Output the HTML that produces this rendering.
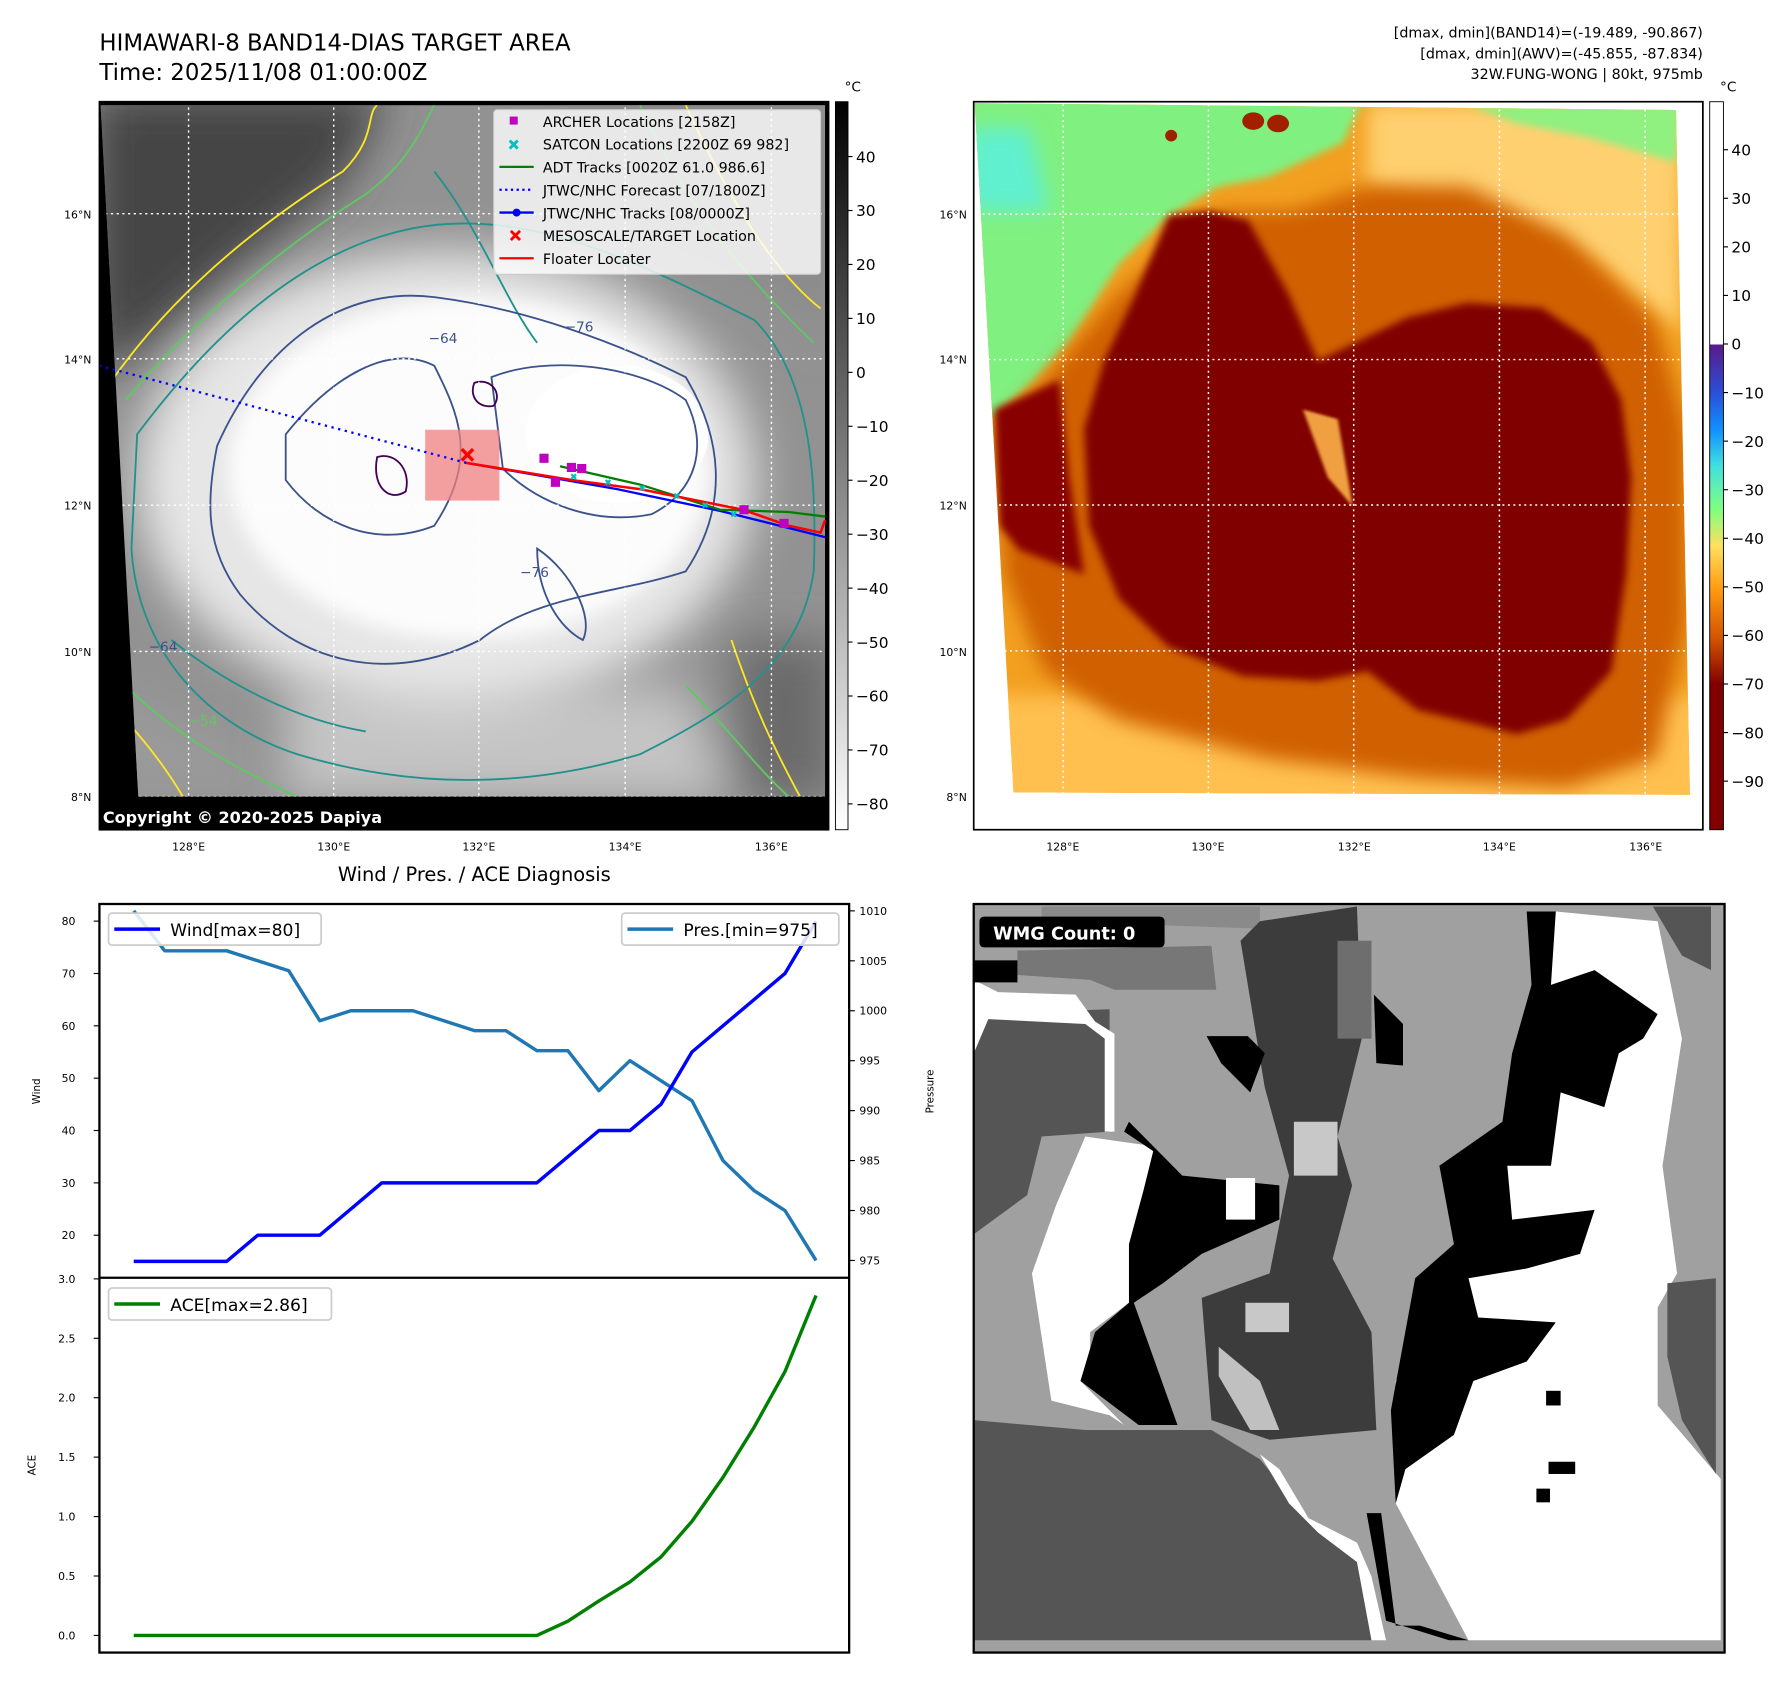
<!DOCTYPE html>
<html><head><meta charset="utf-8"><style>
html,body{margin:0;padding:0;background:#fff;}
svg{display:block;}
text{font-family:"DejaVu Sans","Liberation Sans",sans-serif;}
</style></head><body>
<svg id="root" width="1792" height="1690" viewBox="0 0 1568 1478.75" preserveAspectRatio="none" xmlns="http://www.w3.org/2000/svg">
<defs>
<filter id="b8" x="-20%" y="-20%" width="140%" height="140%"><feGaussianBlur stdDeviation="8"/></filter>
<filter id="b20" x="-30%" y="-30%" width="160%" height="160%"><feGaussianBlur stdDeviation="20"/></filter>
<filter id="b4"><feGaussianBlur stdDeviation="3"/></filter>
<clipPath id="c1"><polygon points="88,92 722,92 722,697 121,697"/></clipPath>
<clipPath id="c2"><polygon points="10,28 1420,42 1448,1455 88,1450"/></clipPath>
<linearGradient id="cb1" x1="0" y1="0" x2="0" y2="1"><stop offset="0" stop-color="#000"/><stop offset="1" stop-color="#fff"/></linearGradient>
<linearGradient id="cb2" x1="0" y1="0" x2="0" y2="1">
<stop offset="0" stop-color="#fff"/><stop offset="0.333" stop-color="#fff"/>
<stop offset="0.334" stop-color="#5a1a8a"/><stop offset="0.40" stop-color="#2a4fd8"/><stop offset="0.45" stop-color="#1090ff"/>
<stop offset="0.50" stop-color="#40e0e0"/><stop offset="0.56" stop-color="#80ff80"/><stop offset="0.61" stop-color="#ffe060"/>
<stop offset="0.67" stop-color="#ff9a10"/><stop offset="0.74" stop-color="#d05000"/><stop offset="0.80" stop-color="#800000"/><stop offset="1" stop-color="#800000"/>
</linearGradient>
</defs>

<text x="87" y="44" font-size="20">HIMAWARI-8 BAND14-DIAS TARGET AREA</text>
<text x="87" y="70" font-size="20">Time: 2025/11/08 01:00:00Z</text>
<g font-size="12.5" text-anchor="end">
<text x="1490" y="33">[dmax, dmin](BAND14)=(-19.489, -90.867)</text>
<text x="1490" y="51">[dmax, dmin](AWV)=(-45.855, -87.834)</text>
<text x="1490" y="69">32W.FUNG-WONG | 80kt, 975mb</text>
</g>

<g>
<rect x="87" y="89" width="638" height="637" fill="#000"/>
<g clip-path="url(#c1)">
<rect x="80" y="80" width="660" height="640" fill="#929292"/>
<polygon points="80,80 340,80 300,160 210,230 130,300 80,330" fill="#454545" filter="url(#b20)"/>
<polygon points="480,80 730,80 730,300 680,250 560,200" fill="#8a8a8a" filter="url(#b20)"/>
<polygon points="640,560 730,560 730,700 650,700" fill="#6a6a6a" filter="url(#b20)"/>
<polygon points="80,600 200,640 250,700 80,700" fill="#9a9a9a" filter="url(#b20)"/>
<polygon points="250,600 600,600 640,700 250,700" fill="#c4c4c4" filter="url(#b20)"/>
<ellipse cx="390" cy="420" rx="270" ry="200" fill="#e6e6e6" filter="url(#b20)"/>
<ellipse cx="410" cy="410" rx="210" ry="150" fill="#fcfcfc" filter="url(#b8)"/>
<ellipse cx="540" cy="380" rx="80" ry="60" fill="#fff"/>
<g fill="none" stroke-width="1.6">
<path d="M100,330 C150,260 220,200 300,150 C330,120 320,100 330,92" stroke="#fde725"/>
<path d="M600,92 C640,180 680,240 718,270" stroke="#fde725"/>
<path d="M640,560 C660,620 680,660 700,697" stroke="#fde725"/>
<path d="M100,620 C130,650 150,680 160,697" stroke="#fde725"/>
<path d="M110,350 C160,290 240,220 320,170 C360,140 370,110 380,92" stroke="#5ec962"/>
<path d="M560,92 C600,180 650,240 712,300" stroke="#5ec962"/>
<path d="M600,600 C640,640 660,670 690,697" stroke="#5ec962"/>
<path d="M110,600 C150,640 200,670 260,697" stroke="#5ec962"/>
<path d="M120,380 C180,300 260,220 360,200 C460,180 560,230 660,280 C710,330 715,420 712,500 C700,580 640,620 560,660 C460,690 360,690 260,660 C170,630 120,560 115,480 Z" stroke="#21918c"/>
<path d="M150,560 C200,600 260,630 320,640" stroke="#21918c"/>
<path d="M380,150 C420,200 440,260 470,300" stroke="#21918c"/>
<path d="M190,390 C230,300 300,250 380,260 C460,270 540,300 600,330 C630,380 640,440 600,500 C540,520 470,520 420,560 C340,600 260,580 210,520 C180,480 180,440 190,390 Z" stroke="#3b528b"/>
<path d="M250,380 C290,330 340,300 380,320 C400,360 420,400 380,460 C330,480 280,460 250,420 Z" stroke="#3b528b"/>
<path d="M430,330 C480,310 560,320 600,350 C620,390 610,430 570,450 C520,460 470,440 440,410 Z" stroke="#3b528b"/>
<path d="M470,480 C500,500 520,540 510,560 C490,550 470,520 470,480 Z" stroke="#3b528b"/>
<path d="M330,400 C345,395 360,410 355,430 C340,440 325,425 330,400 Z" stroke="#440154"/>
<path d="M415,335 C430,330 440,345 432,355 C420,358 410,348 415,335 Z" stroke="#440154"/>
</g>
<g fill="#3b528b" font-size="12">
<text x="494" y="290">−76</text><text x="375" y="300">−64</text><text x="455" y="505">−76</text><text x="130" y="570">−64</text><text x="165" y="635" fill="#5ec962">−54</text>
</g>
<g stroke="#fff" stroke-width="1.2" stroke-dasharray="2,3">
<line x1="165" y1="89" x2="165" y2="726"/><line x1="292" y1="89" x2="292" y2="726"/><line x1="419" y1="89" x2="419" y2="726"/><line x1="547" y1="89" x2="547" y2="726"/><line x1="675" y1="89" x2="675" y2="726"/>
<line x1="87" y1="187" x2="725" y2="187"/><line x1="87" y1="314" x2="725" y2="314"/><line x1="87" y1="442" x2="725" y2="442"/><line x1="87" y1="570" x2="725" y2="570"/><line x1="87" y1="697" x2="725" y2="697"/>
</g>
</g>
<rect x="372" y="376" width="65" height="62" fill="#f08080" opacity="0.75"/>
<line x1="87" y1="320" x2="408" y2="405" stroke="#0000ff" stroke-width="2" stroke-dasharray="2,4"/>
<polyline points="408,405 540,428 630,447 722,470" fill="none" stroke="#0000ff" stroke-width="2"/>
<polyline points="490,408 560,424 630,446 690,448 722,452" fill="none" stroke="#008000" stroke-width="2"/>
<polyline points="408,405 500,420 560,428 620,440 650,446 690,460 718,466 722,455" fill="none" stroke="#ff0000" stroke-width="2.2"/>
<g stroke="#00c0c0" stroke-width="2">
<path d="M500,415 l4,4 M504,415 l-4,4 M530,420 l4,4 M534,420 l-4,4 M560,425 l4,4 M564,425 l-4,4 M590,432 l4,4 M594,432 l-4,4 M615,440 l4,4 M619,440 l-4,4 M640,448 l4,4 M644,448 l-4,4"/>
</g>
<g fill="#c000c0">
<rect x="472" y="397" width="8" height="8"/><rect x="496" y="405" width="8" height="8"/><rect x="505" y="406" width="8" height="8"/><rect x="482" y="418" width="8" height="8"/><rect x="647" y="442" width="8" height="8"/><rect x="682" y="454" width="8" height="8"/>
</g>
<path d="M404,393 l10,10 M414,393 l-10,10" stroke="#ff0000" stroke-width="3"/>
<g>
<rect x="432" y="96" width="286" height="144" rx="3" fill="#fff" fill-opacity="0.8" stroke="#ccc"/>
<rect x="446" y="102" width="7" height="7" fill="#c000c0"/>
<path d="M446,123 l7,7 M453,123 l-7,7" stroke="#00c0c0" stroke-width="2.5"/>
<line x1="437" y1="146" x2="467" y2="146" stroke="#008000" stroke-width="2"/>
<line x1="437" y1="166" x2="467" y2="166" stroke="#0000ff" stroke-width="2" stroke-dasharray="2,3"/>
<line x1="437" y1="186" x2="467" y2="186" stroke="#0000ff" stroke-width="2"/><circle cx="452" cy="186" r="3.5" fill="#0000ff"/>
<path d="M447,202 l8,8 M455,202 l-8,8" stroke="#ff0000" stroke-width="2.5"/>
<line x1="437" y1="226" x2="467" y2="226" stroke="#ff0000" stroke-width="2"/>
<g font-size="12.5">
<text x="475" y="111">ARCHER Locations [2158Z]</text>
<text x="475" y="131">SATCON Locations [2200Z 69 982]</text>
<text x="475" y="151">ADT Tracks [0020Z 61.0 986.6]</text>
<text x="475" y="171">JTWC/NHC Forecast [07/1800Z]</text>
<text x="475" y="191">JTWC/NHC Tracks [08/0000Z]</text>
<text x="475" y="211">MESOSCALE/TARGET Location</text>
<text x="475" y="231">Floater Locater</text>
</g>
</g>
<text x="90" y="720" font-size="14" font-weight="bold" fill="#fff">Copyright © 2020-2025 Dapiya</text>
<rect x="87" y="89" width="638" height="637" fill="none" stroke="#000" stroke-width="1.5"/>
</g>
<g font-size="9.5">
<g text-anchor="end"><text x="80" y="191">16°N</text><text x="80" y="318">14°N</text><text x="80" y="446">12°N</text><text x="80" y="574">10°N</text><text x="80" y="701">8°N</text></g>
<g text-anchor="middle"><text x="165" y="744">128°E</text><text x="292" y="744">130°E</text><text x="419" y="744">132°E</text><text x="547" y="744">134°E</text><text x="675" y="744">136°E</text></g>
</g>
<g>
<rect x="731" y="89" width="11" height="637" fill="url(#cb1)" stroke="#000" stroke-width="0.8"/>
<text x="739" y="80" font-size="12">°C</text>
<g font-size="13.5" id="cb1ticks"></g>
</g>

<g>
<rect x="852" y="89" width="638" height="637" fill="#fff"/>
<g transform="translate(848.5,78.4) scale(0.4352,0.4241)">
<g clip-path="url(#c2)">
<rect x="0" y="0" width="1500" height="1500" fill="#f2a020"/>
<polygon points="0,1250 1500,1250 1500,1500 0,1500" fill="#ffc050" filter="url(#b20)"/>
<polygon points="800,30 1430,30 1430,500 1250,350 1000,250 800,200" fill="#ffd070" filter="url(#b20)"/>
<polygon points="0,0 800,0 750,110 600,180 500,200 400,260 300,360 200,520 130,600 40,680 0,680" fill="#80f080" filter="url(#b8)"/>
<polygon points="0,80 120,80 160,250 0,250" fill="#60f0d0" filter="url(#b20)"/>
<polygon points="1000,30 1430,30 1420,150 1250,100 1100,70" fill="#90f080" filter="url(#b8)"/>
<polygon points="300,420 500,250 650,250 800,200 1000,200 1200,300 1380,480 1440,700 1440,1100 1380,1380 1200,1440 900,1420 600,1380 300,1300 150,1200 70,1000 60,700 150,600" fill="#d06000" filter="url(#b20)"/>
<polygon points="400,260 480,250 560,270 640,420 700,560 780,520 880,470 1000,440 1150,450 1250,520 1310,640 1330,800 1320,1000 1290,1200 1200,1300 1100,1330 900,1280 800,1200 700,1220 550,1210 400,1150 300,1050 240,900 230,700 270,560 330,430" fill="#800000" filter="url(#b8)"/>
<polygon points="50,660 180,600 200,800 230,1000 100,950 60,900" fill="#880400" filter="url(#b8)"/>
<polygon points="670,660 740,680 770,860 720,800" fill="#f0a040" filter="url(#b4)"/>
<ellipse cx="570" cy="65" rx="22" ry="18" fill="#a02000"/><ellipse cx="620" cy="70" rx="22" ry="18" fill="#a02000"/><ellipse cx="405" cy="95" rx="12" ry="12" fill="#a02000"/>
</g>
<g stroke="#fff" stroke-width="3" stroke-dasharray="4,7">
<line x1="188" y1="30" x2="188" y2="1455"/><line x1="480" y1="30" x2="480" y2="1455"/><line x1="772" y1="30" x2="772" y2="1455"/><line x1="1065" y1="30" x2="1065" y2="1455"/><line x1="1358" y1="30" x2="1358" y2="1455"/>
<line x1="15" y1="257" x2="1440" y2="257"/><line x1="15" y1="557" x2="1440" y2="557"/><line x1="15" y1="857" x2="1440" y2="857"/><line x1="15" y1="1158" x2="1440" y2="1158"/><line x1="15" y1="1458" x2="1440" y2="1458"/>
</g>
</g>
<rect x="852" y="89" width="638" height="637" fill="none" stroke="#000" stroke-width="1.5"/>
</g>
<g font-size="9.5">
<g text-anchor="end"><text x="846" y="191">16°N</text><text x="846" y="318">14°N</text><text x="846" y="446">12°N</text><text x="846" y="574">10°N</text><text x="846" y="701">8°N</text></g>
<g text-anchor="middle"><text x="930" y="744">128°E</text><text x="1057" y="744">130°E</text><text x="1185" y="744">132°E</text><text x="1312" y="744">134°E</text><text x="1440" y="744">136°E</text></g>
</g>
<g>
<rect x="1496" y="89" width="12" height="637" fill="url(#cb2)" stroke="#000" stroke-width="0.8"/>
<text x="1505" y="80" font-size="12">°C</text>
<g font-size="13.5" id="cb2ticks"></g>
</g>

<g id="chart">
<text x="415" y="771" font-size="17" text-anchor="middle">Wind / Pres. / ACE Diagnosis</text>
<rect x="87" y="791" width="656" height="655" fill="#fff" stroke="#000" stroke-width="2"/>
<line x1="87" y1="1118" x2="743" y2="1118" stroke="#000" stroke-width="2"/>
<text transform="translate(35,955) rotate(-90)" font-size="9" text-anchor="middle">Wind</text>
<text transform="translate(817,955) rotate(-90)" font-size="9" text-anchor="middle">Pressure</text>
<text transform="translate(31,1282) rotate(-90)" font-size="9" text-anchor="middle">ACE</text>
<g id="chartMarks"></g>
<g><rect x="95" y="799" width="186" height="28" rx="3" fill="#fff" fill-opacity="0.85" stroke="#ccc" stroke-width="1.5"/><line x1="100" y1="813" x2="140" y2="813" stroke="#0000ff" stroke-width="3"/><text x="149" y="819" font-size="15">Wind[max=80]</text></g>
<g><rect x="544" y="799" width="190" height="28" rx="3" fill="#fff" fill-opacity="0.85" stroke="#ccc" stroke-width="1.5"/><line x1="549" y1="813" x2="589" y2="813" stroke="#1f77b4" stroke-width="3"/><text x="598" y="819" font-size="15">Pres.[min=975]</text></g>
<g><rect x="95" y="1127" width="195" height="28" rx="3" fill="#fff" fill-opacity="0.85" stroke="#ccc" stroke-width="1.5"/><line x1="100" y1="1141" x2="140" y2="1141" stroke="#008000" stroke-width="3"/><text x="149" y="1147" font-size="15">ACE[max=2.86]</text></g>
</g>

<g>
<rect x="852" y="791" width="657" height="655" fill="#fff"/>
<g transform="translate(847.8,780.4) scale(0.4244,0.428)">
<rect x="10" y="25" width="1548" height="1530" fill="#a0a0a0"/>
<polygon points="100,120 500,110 510,200 300,200 250,180 100,170" fill="#777"/>
<polygon points="150,30 600,30 600,75 150,60" fill="#8a8a8a"/>
<polygon points="10,250 290,240 290,490 150,500 120,620 10,700" fill="#555"/>
<polygon points="10,1080 240,1100 500,1100 600,1160 700,1280 800,1330 830,1530 10,1530" fill="#555"/>
<polygon points="1410,30 1530,30 1530,160 1470,130" fill="#555"/>
<polygon points="10,180 60,205 220,210 260,265 300,290 300,490 280,490 280,300 240,270 40,260 10,330" fill="#fff"/>
<polygon points="240,500 380,520 380,600 330,720 330,840 250,900 250,980 230,1000 320,1090 290,1070 170,1040 130,780 180,640" fill="#fff"/>
<polygon points="600,60 800,30 810,300 760,500 790,600 750,750 830,900 840,1100 620,1120 500,1080 480,830 620,780 660,580 610,400 560,100" fill="#3c3c3c"/>
<polygon points="760,100 830,100 830,300 760,300" fill="#6e6e6e"/>
<polygon points="1210,40 1420,60 1470,300 1430,560 1460,780 1420,850 1420,1050 1550,1200 1550,1530 1030,1530 880,1250 880,1000 1100,560 1180,100" fill="#fff"/>
<polygon points="1440,800 1540,790 1540,1190 1470,1080 1440,950" fill="#555"/>
<polygon points="1150,40 1210,40 1200,190 1290,160 1420,250 1390,300 1340,330 1310,440 1220,410 1200,560 1110,560 1120,670 1290,650 1260,740 1150,770 1030,790 1050,870 1210,880 1150,960 1040,1000 1000,1110 900,1180 880,1250 870,1060 920,790 1000,720 970,560 1100,470 1120,330 1160,190" fill="#000"/>
<polygon points="330,470 440,580 640,600 640,670 480,740 400,800 340,840 430,1090 350,1090 230,1000 260,900 330,840 330,720 360,610 380,530 320,490" fill="#000"/>
<polygon points="490,295 575,295 610,330 580,410 550,380 520,350" fill="#000"/>
<polygon points="835,210 895,270 895,355 840,350" fill="#000"/>
<rect x="530" y="585" width="60" height="85" fill="#fff"/>
<polygon points="670,470 760,470 760,580 670,580" fill="#c8c8c8"/>
<polygon points="570,840 660,840 660,900 570,900" fill="#c8c8c8"/>
<polygon points="515,930 600,1000 640,1100 580,1100 515,990" fill="#c0c0c0"/>
<polygon points="600,1150 640,1180 700,1280 800,1330 830,1400 860,1530 830,1530 800,1370 720,1310 660,1250" fill="#fff"/>
<polygon points="820,1270 850,1270 880,1500 930,1500 1030,1530 990,1530 860,1490" fill="#000"/>
<rect x="1190" y="1020" width="30" height="30" fill="#000"/><rect x="1195" y="1165" width="55" height="25" fill="#000"/><rect x="1170" y="1220" width="28" height="28" fill="#000"/>
<rect x="10" y="140" width="90" height="45" fill="#000"/>
</g>
<rect x="857" y="802" width="162" height="27" rx="4" fill="#000"/>
<text x="869" y="822" font-size="15.5" font-weight="bold" fill="#fff">WMG Count: 0</text>
<rect x="852" y="791" width="657" height="655" fill="none" stroke="#000" stroke-width="2"/>
</g>
</svg>
<script>
const steps = [0,1,2,3,4,5,6,7,8,9,10,11,12,13,14,15,16,17,18,19,20,21,22];
const windValues = [15,15,15,15,20,20,20,25,30,30,30,30,30,30,35,40,40,45,55,60,65,70,80];
const pressureValues = [1010,1006,1006,1006,1005,1004,999,1000,1000,1000,999,998,998,996,996,992,995,993,991,985,982,980,975];
const aceValues = [0,0,0,0,0,0,0,0,0,0,0,0,0,0,0.12,0.29,0.45,0.66,0.96,1.33,1.75,2.22,2.86];
const windTicks = [20,30,40,50,60,70,80];
const pressureTicks = [975,980,985,990,995,1000,1005,1010];
const aceTicks = [0.0,0.5,1.0,1.5,2.0,2.5,3.0];
const irTicks = [40,30,20,10,0,-10,-20,-30,-40,-50,-60,-70,-80];
const wvTicks = [40,30,20,10,0,-10,-20,-30,-40,-50,-60,-70,-80,-90];

const NS = 'http://www.w3.org/2000/svg';
const xScale = i => 117 + i * (714 - 117) / (steps.length - 1);
const yWind = v => 806 + (80 - v) * 4.58;
const yPres = p => 797 + (1010 - p) * 8.74;
const yAce = v => 1431 - v * 104;
const yIr = v => 137 + (40 - v) * 4.72;
const yWv = v => 131 + (40 - v) * 4.25;

function mk(tag, attrs, parent) {
  const el = document.createElementNS(NS, tag);
  for (const k in attrs) el.setAttribute(k, attrs[k]);
  parent.appendChild(el);
  return el;
}
const marks = document.getElementById('chartMarks');
function tick(parent, x1, x2, y) { mk('line', {x1:x1, y1:y, x2:x2, y2:y, stroke:'#000', 'stroke-width':1}, parent); }

windTicks.forEach(v => {
  const y = yWind(v);
  tick(marks, 82, 87, y);
  const t = mk('text', {x:66, y:y+3.5, 'font-size':9.5, 'text-anchor':'end'}, marks);
  
  
  t.textContent = v;
});
pressureTicks.forEach(v => {
  const y = yPres(v);
  tick(marks, 743, 748, y);
  const t = mk('text', {x:752, y:y+3.5, 'font-size':9.5}, marks);
  
  
  t.textContent = v;
});
aceTicks.forEach(v => {
  const y = yAce(v);
  tick(marks, 82, 87, y);
  const t = mk('text', {x:66, y:y+3.5, 'font-size':9.5, 'text-anchor':'end'}, marks);
  
  
  t.textContent = v.toFixed(1);
});

function line(values, yf, color, name) {
  const pts = steps.map((s, i) => xScale(s) + ',' + yf(values[i])).join(' ');
  const pl = mk('polyline', {points:pts, fill:'none', stroke:color, 'stroke-width':3, 'stroke-linejoin':'round'}, marks);
  
  
}
line(pressureValues, yPres, '#1f77b4', 'pressure-line');
line(windValues, yWind, '#0000ff', 'wind-line');
line(aceValues, yAce, '#008000', 'ace-line');

function cbTicks(id, ticks, yf, x) {
  const g = document.getElementById(id);
  ticks.forEach(v => {
    const y = yf(v);
    tick(g, x - 4, x, y);
    const t = mk('text', {x:x + 3, y:y + 5}, g);
    
    
    t.textContent = (v < 0 ? '\u2212' + (-v) : v);
  });
}
cbTicks('cb1ticks', irTicks, yIr, 746);
cbTicks('cb2ticks', wvTicks, yWv, 1512);
</script>
</body></html>
